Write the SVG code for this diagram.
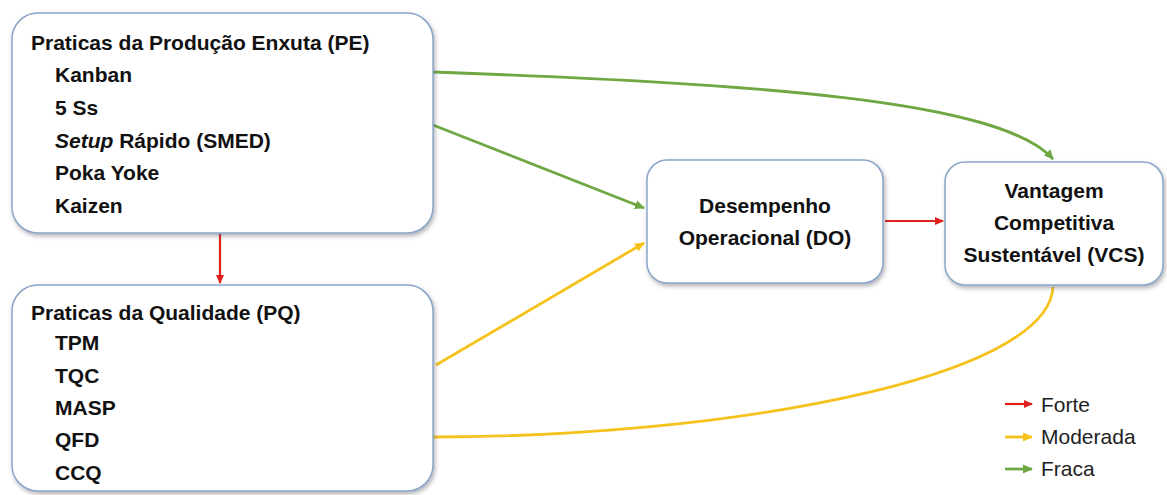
<svg xmlns="http://www.w3.org/2000/svg" width="1167" height="495" viewBox="0 0 1167 495">
<style>
.box{fill:#ffffff;stroke:#8aa6c8;stroke-width:1.5;filter:url(#sh)}
.t{font-family:"Liberation Sans",Arial,sans-serif;font-weight:bold;font-size:21px;fill:#111}
.c{text-anchor:middle}
.lg{font-family:"Liberation Sans",Arial,sans-serif;font-size:21px;fill:#222}
.r{stroke:#e0201b;stroke-width:2.2;fill:none}
.y{stroke:#f5c21b;stroke-width:2.8;fill:none}
.g{stroke:#6fa843;stroke-width:2.8;fill:none}
</style>
<defs>
<filter id="sh" x="-10%" y="-10%" width="120%" height="130%">
<feDropShadow dx="1.5" dy="2.5" stdDeviation="2" flood-color="#556" flood-opacity="0.45"/>
</filter>
<marker id="ar" markerWidth="9" markerHeight="9" refX="8" refY="4.5" orient="auto" markerUnits="userSpaceOnUse"><path d="M0,0.5 L9,4.5 L0,8.5 Z" fill="#e0201b"/></marker>
<marker id="ay" markerWidth="10" markerHeight="10" refX="9" refY="5" orient="auto" markerUnits="userSpaceOnUse"><path d="M0,0.5 L10,5 L0,9.5 Z" fill="#f5c21b"/></marker>
<marker id="ag" markerWidth="10" markerHeight="10" refX="9" refY="5" orient="auto" markerUnits="userSpaceOnUse"><path d="M0,0.5 L10,5 L0,9.5 Z" fill="#6fa843"/></marker>
</defs>
<rect width="1167" height="495" fill="#ffffff"/>

<g id="connectors">
<path class="r" d="M220,234 L220,283" marker-end="url(#ar)"/>
<path class="r" d="M885,221 L943,221" marker-end="url(#ar)"/>
<path class="g" d="M433,72 C760,84 1000,100 1053,159" marker-end="url(#ag)"/>
<path class="g" d="M433,125 L644,208" marker-end="url(#ag)"/>
<path class="y" d="M436,365 L644,243" marker-end="url(#ay)"/>
<path class="y" d="M433,437 C720,437 1048,380 1053,287"/>
</g>

<g id="pe">
<rect class="box" x="12" y="13" width="421" height="220" rx="26"/>
<text class="t" x="31" y="50">Praticas da Produção Enxuta (PE)</text>
<text class="t" x="55" y="82">Kanban</text>
<text class="t" x="55" y="115">5 Ss</text>
<text class="t" x="55" y="148"><tspan font-style="italic">Setup</tspan> Rápido (SMED)</text>
<text class="t" x="55" y="180">Poka Yoke</text>
<text class="t" x="55" y="213">Kaizen</text>
</g>

<g id="pq">
<rect class="box" x="12" y="285" width="421" height="206" rx="26"/>
<text class="t" x="31" y="320">Praticas da Qualidade (PQ)</text>
<text class="t" x="55" y="350">TPM</text>
<text class="t" x="55" y="383">TQC</text>
<text class="t" x="55" y="415">MASP</text>
<text class="t" x="55" y="447">QFD</text>
<text class="t" x="55" y="480">CCQ</text>
</g>

<g id="do">
<rect class="box" x="647" y="160" width="236" height="123" rx="20"/>
<text class="t c" x="765" y="213">Desempenho</text>
<text class="t c" x="765" y="245">Operacional (DO)</text>
</g>

<g id="vcs">
<rect class="box" x="945" y="162" width="218" height="123" rx="20"/>
<text class="t c" x="1054" y="198">Vantagem</text>
<text class="t c" x="1054" y="230">Competitiva</text>
<text class="t c" x="1054" y="262">Sustentável (VCS)</text>
</g>

<g id="legend">
<path class="r" d="M1005,404 L1032,404" marker-end="url(#ar)"/>
<path class="y" d="M1005,437 L1032,437" marker-end="url(#ay)"/>
<path class="g" d="M1005,469 L1032,469" marker-end="url(#ag)"/>
<text class="lg" x="1041" y="412">Forte</text>
<text class="lg" x="1041" y="444">Moderada</text>
<text class="lg" x="1041" y="476">Fraca</text>
</g>
</svg>
